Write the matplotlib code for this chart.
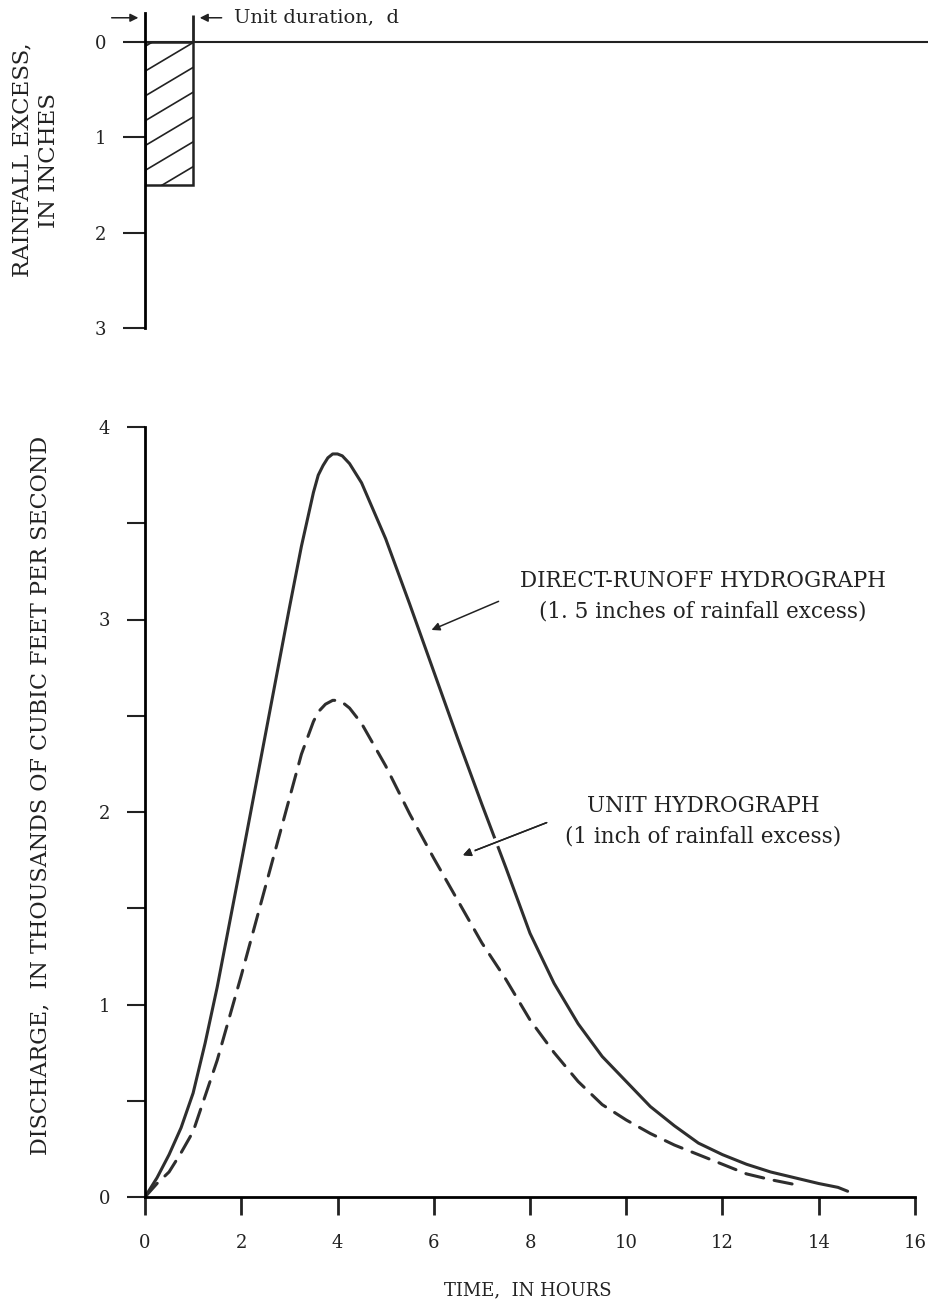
import numpy as np
import matplotlib.pyplot as plt
import matplotlib.patheffects as pe

plt.rcParams['font.family'] = 'DejaVu Serif'
plt.rcParams['font.size'] = 13
ink = '#222222'
line_col = '#2e2e2e'

# rainfall excess block
duration = 1.0
rain_depth = 1.5

# direct-runoff hydrograph (1.5 in. of rainfall excess), thousands of cfs
t_direct = [0, 0.25, 0.5, 0.75, 1.0, 1.25, 1.5, 2.0, 2.25, 2.5, 3.0, 3.25, 3.5, 3.6, 3.7,
            3.8, 3.9, 4.0, 4.1, 4.25, 4.5, 5.0, 5.5, 6.0, 6.5, 7.0, 7.5, 8.0, 8.5, 9.0,
            9.5, 10.0, 10.5, 11.0, 11.5, 12.0, 12.5, 13.0, 13.5, 14.0, 14.4, 14.6]
q_direct = [0, 0.10, 0.22, 0.36, 0.54, 0.80, 1.09, 1.74, 2.07, 2.40, 3.06, 3.38, 3.66, 3.75, 3.80,
            3.84, 3.86, 3.86, 3.85, 3.81, 3.71, 3.42, 3.08, 2.73, 2.38, 2.04, 1.71, 1.37, 1.11, 0.90,
            0.73, 0.60, 0.47, 0.37, 0.28, 0.22, 0.17, 0.13, 0.10, 0.07, 0.05, 0.03]

# unit hydrograph (1 in. of rainfall excess)
t_unit = [0, 0.25, 0.5, 0.75, 1.0, 1.5, 2.0, 2.5, 3.0, 3.25, 3.5, 3.6, 3.75, 3.9, 4.0, 4.1,
          4.25, 4.5, 5.0, 5.5, 6.0, 6.5, 7.0, 7.5, 8.0, 8.5, 9.0, 9.5, 10.0, 10.5, 11.0,
          11.5, 12.0, 12.5, 13.0, 13.6]
q_unit = [0, 0.07, 0.13, 0.23, 0.34, 0.71, 1.15, 1.61, 2.07, 2.30, 2.47, 2.52, 2.56, 2.58, 2.58, 2.57,
          2.54, 2.46, 2.24, 1.99, 1.76, 1.54, 1.32, 1.13, 0.92, 0.75, 0.60, 0.48, 0.40, 0.33, 0.27,
          0.22, 0.17, 0.12, 0.09, 0.06]

W, H = 929, 1313
fig = plt.figure(figsize=(W / 100, H / 100), dpi=100)

# ---- bottom: hydrographs ----
ax = fig.add_axes([145 / W, 1 - 1197 / H, 770 / W, 770 / H])
ax.set_xlim(0, 16)
ax.set_ylim(0, 4)
for s in ['top', 'right']:
    ax.spines[s].set_visible(False)
ax.spines['left'].set_linewidth(2)
ax.spines['bottom'].set_linewidth(2)
ax.set_xticks(range(0, 17, 2))
ax.set_yticks(np.arange(0, 4.01, 0.5))
ax.set_yticklabels([str(int(v)) if v == int(v) else '' for v in np.arange(0, 4.01, 0.5)])
ax.tick_params(axis='x', length=13, width=2, pad=14, colors=ink)
ax.tick_params(axis='y', length=13, width=1.5, pad=12, colors=ink)

ax.plot(t_direct, q_direct, color=line_col, lw=2.2, solid_capstyle='round', solid_joinstyle='round')
ax.plot(t_unit, q_unit, color=line_col, lw=2.2, dashes=(6, 3.5), dash_capstyle='round')

ax.text(11.6, 3.12, 'DIRECT-RUNOFF HYDROGRAPH\n(1. 5 inches of rainfall excess)',
        ha='center', va='center', linespacing=1.5, color=ink, fontsize=15.5)
ax.annotate('', xy=(5.9, 2.94), xytext=(7.4, 3.10),
            arrowprops=dict(arrowstyle='-|>', color=ink, lw=1.1, mutation_scale=12))

ax.text(11.6, 1.95, 'UNIT HYDROGRAPH\n(1 inch of rainfall excess)',
        ha='center', va='center', linespacing=1.5, color=ink, fontsize=15.5)
ax.annotate('', xy=(6.55, 1.77), xytext=(8.4, 1.95),
            arrowprops=dict(arrowstyle='-|>', color=ink, lw=1.1, mutation_scale=12,
                            path_effects=[pe.withStroke(linewidth=6, foreground='white'), pe.Normal()]))

# ---- top: rainfall excess ----
ax2 = fig.add_axes([145 / W, 1 - 328 / H, 770 / W, 315 / H])
ax2.set_xlim(0, 16)
ax2.set_ylim(3, -0.3)
for s in ['top', 'right', 'bottom']:
    ax2.spines[s].set_visible(False)
ax2.spines['left'].set_linewidth(2)
ax2.set_xticks([])
ax2.set_yticks([0, 1, 2, 3])
ax2.tick_params(axis='y', length=16, width=1.5, pad=12, colors=ink)
ax2.axhline(0, xmin=0, xmax=(W - 145) / 770, color=ink, lw=1.5, clip_on=False)
bar = ax2.bar(0, rain_depth, width=duration, align='edge', bottom=0, fill=False,
              edgecolor=ink, lw=1.8)[0]
# shallow diagonal hatching inside the block
for d in np.arange(0.05, rain_depth + 0.4, 0.26):
    hl, = ax2.plot([0, duration], [d, d - 0.30], color=ink, lw=1.2)
    hl.set_clip_path(bar)
ax2.vlines(duration, -0.28, 0, color=ink, lw=2)
ax2.annotate('', xy=(-0.08, -0.25), xytext=(-0.75, -0.25),
             arrowprops=dict(arrowstyle='-|>', color=ink, lw=1.1, mutation_scale=12),
             annotation_clip=False)
ax2.annotate('', xy=(duration + 0.08, -0.25), xytext=(duration + 0.65, -0.25),
             arrowprops=dict(arrowstyle='-|>', color=ink, lw=1.1, mutation_scale=12),
             annotation_clip=False)
ax2.text(duration + 0.85, -0.25, 'Unit duration,  d', ha='left', va='center', color=ink,
         fontsize=14)

fig.text(36 / W, 1 - 160 / H, 'RAINFALL EXCESS,\nIN INCHES', rotation=90,
         ha='center', va='center', multialignment='center', linespacing=1.25, color=ink,
         fontsize=16.5)
fig.text(40 / W, 1 - 795 / H, 'DISCHARGE,  IN THOUSANDS OF CUBIC FEET PER SECOND',
         rotation=90, ha='center', va='center', color=ink, fontsize=16)
fig.text(528 / W, 1 - 1290 / H, 'TIME,  IN HOURS', ha='center', va='center', color=ink,
         fontsize=13)

fig.savefig('out.png', dpi=100)
